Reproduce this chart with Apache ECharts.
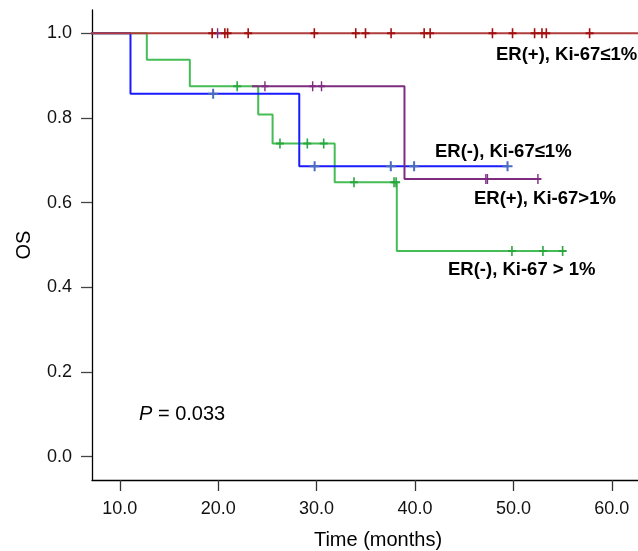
<!DOCTYPE html>
<html><head><meta charset="utf-8">
<script src="https://cdn.jsdelivr.net/npm/echarts@6/dist/echarts.min.js"></script>
<style>html,body{margin:0;padding:0;background:#fff}#c{width:638px;height:551px}</style>
</head><body><div id="c"></div>
<script>
// ---- data ----
const xTicks = [10, 20, 30, 40, 50, 60];
const yTicks = [0, 0.2, 0.4, 0.6, 0.8, 1.0];

// ER(+), Ki-67<=1%
const redTimes = [0, 66];
const redSurv = [1, 1];
const redCensor = [19.39, 20.68, 20.96, 23.05, 29.77, 33.98, 34.97, 37.57, 40.93, 41.54, 47.87, 49.91, 52.15, 52.90, 53.34, 57.74];

// ER(-), Ki-67<=1%
const blueTimes = [0, 11.09, 28.24, 49.4];
const blueSurv = [1, 0.857, 0.686, 0.686];
const blueCensor = [19.49, 29.8, 37.54, 39.91, 49.4];

// ER(+), Ki-67>1%
const purpleTimes = [23.43, 38.93, 52.49];
const purpleSurv = [0.875, 0.656, 0.656];
const purpleCensor = [19.94, 24.75, 29.6, 30.5, 47.2, 47.36, 52.49];

// ER(-), Ki-67 > 1%
const greenTimes = [0, 12.75, 17.12, 24.07, 25.53, 31.84, 38.15, 55.0];
const greenSurv = [1, 0.9375, 0.875, 0.808, 0.740, 0.648, 0.486, 0.486];
const greenCensor = [21.93, 26.28, 29.06, 30.72, 33.8, 37.87, 38.08, 49.85, 53.0, 55.0];

const labels = ['ER(+), Ki-67\u22641%', 'ER(-), Ki-67\u22641%', 'ER(+), Ki-67>1%', 'ER(-), Ki-67 > 1%'];
const pText = '{i|P} = 0.033';

// ---- helpers ----
const FONT = '"Liberation Sans", Arial, Helvetica, "DejaVu Sans", sans-serif';
function zip(t, s) { return t.map((v, i) => [v, s[i]]); }
function survAt(times, surv, t) {
  let v = 1;
  for (let i = 0; i < times.length; i++) { if (times[i] <= t) v = surv[i]; }
  return v;
}
const PLUS = 'path://M4,0H6V10H4ZM0,4H10V6H0Z';
function lineSeries(times, surv, color, z) {
  return { type: 'line', step: 'end', symbol: 'none', silent: true, z: z,
    data: zip(times, surv), lineStyle: { color: color, width: 2 }, clip: true };
}
function censorSeries(cens, times, surv, color, size, z) {
  return { type: 'scatter', symbol: PLUS, symbolSize: size, silent: true, z: z,
    data: cens.map(t => [t, survAt(times, surv, t)]), itemStyle: { color: color, opacity: 1 } };
}
const LBL = 'bold 18.5px ' + FONT;

const chart = echarts.init(document.getElementById('c'), null, { renderer: 'canvas' });
chart.setOption({
  animation: false,
  backgroundColor: '#fff',
  title: { text: pText, left: 139, top: 404, padding: 0,
    textStyle: { fontSize: 20, fontWeight: 'normal', color: '#000', fontFamily: FONT,
      rich: { i: { fontStyle: 'italic', fontSize: 20, color: '#000', fontFamily: FONT } } } },
  grid: { left: 92, right: -26, top: 10, bottom: 71, containLabel: false, outerBoundsMode: 'none' },
  xAxis: {
    type: 'value', min: 7.18, max: 65.3,
    name: 'Time (months)', nameLocation: 'middle', nameGap: 50,
    nameTextStyle: { fontSize: 20, color: '#000', fontFamily: FONT },
    axisLine: { show: true, onZero: false, lineStyle: { color: '#000', width: 1.3 } },
    axisTick: { show: true, length: 11, customValues: xTicks, lineStyle: { color: '#333', width: 1.3 } },
    axisLabel: { customValues: xTicks, formatter: v => v.toFixed(1), fontSize: 18, color: '#111', margin: 20, fontFamily: FONT },
    splitLine: { show: false }
  },
  yAxis: {
    type: 'value', min: -0.055, max: 1.055,
    name: 'OS', nameLocation: 'middle', nameGap: 58,
    nameTextStyle: { fontSize: 20, color: '#000', fontFamily: FONT },
    axisLine: { show: true, onZero: false, lineStyle: { color: '#000', width: 1.3 } },
    axisTick: { show: true, length: 11, customValues: yTicks, lineStyle: { color: '#444', width: 1.3 } },
    axisLabel: { customValues: yTicks, formatter: v => v.toFixed(1), fontSize: 18, color: '#111', margin: 20, fontFamily: FONT },
    splitLine: { show: false }
  },
  graphic: [
    { type: 'text', left: 496, top: 45, style: { text: labels[0], font: LBL, fill: '#000' } },
    { type: 'text', left: 435, top: 142, style: { text: labels[1], font: LBL, fill: '#000' } },
    { type: 'text', left: 474, top: 189, style: { text: labels[2], font: LBL, fill: '#000' } },
    { type: 'text', left: 448, top: 260, style: { text: labels[3], font: LBL, fill: '#000' } }
  ],
  series: [
    lineSeries(greenTimes, greenSurv, '#45bd55', 2),
    lineSeries(blueTimes, blueSurv, '#1a1aff', 3),
    lineSeries(purpleTimes, purpleSurv, '#7e2c80', 4),
    lineSeries(redTimes, redSurv, '#b03c3c', 5),
    censorSeries(greenCensor, greenTimes, greenSurv, '#2aa83e', [8, 10], 6),
    censorSeries(blueCensor, blueTimes, blueSurv, '#4a6cc0', [10, 10], 6),
    censorSeries(purpleCensor, purpleTimes, purpleSurv, '#7e2c80', [7, 10], 6),
    censorSeries(redCensor, redTimes, redSurv, '#a30f0f', [8, 10], 7)
  ]
});
</script>
</body></html>
